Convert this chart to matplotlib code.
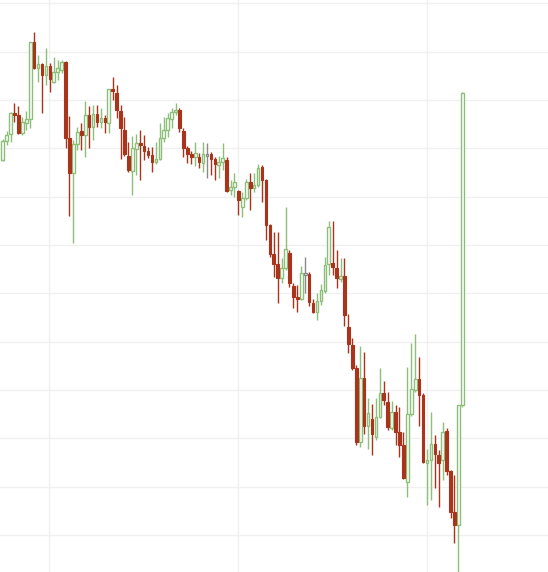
import numpy as np
import matplotlib
matplotlib.use("Agg")
import matplotlib.pyplot as plt

# OHLC series (arbitrary price units)
opens = [440, 459, 466, 487, 485, 467, 477, 481, 558, 532, 536, 525, 534, 518, 528, 530,
         538, 462, 427, 456, 469, 465, 485, 473, 486, 478, 482, 477, 511, 507, 489, 470,
         444, 429, 451, 457, 454, 449, 445, 438, 441, 462, 470, 481, 488, 490, 469, 452,
         446, 443, 443, 437, 445, 446, 441, 435, 438, 440, 410, 413, 409, 393, 402, 418,
         412, 415, 433, 420, 375, 346, 336, 322, 332, 347, 314, 303, 301, 326, 326, 297,
         288, 299, 309, 336, 337, 332, 321, 324, 273, 255, 232, 158, 222, 174, 181, 163,
         183, 207, 198, 172, 188, 168, 155, 118, 186, 210, 221, 205, 137, 140, 156, 145,
         140, 169, 129, 88, 75, 195]
highs = [461, 469, 488, 497, 494, 483, 489, 558, 568, 545, 537, 552, 537, 543, 540, 540,
         539, 484, 460, 473, 477, 499, 494, 495, 495, 492, 485, 511, 523, 515, 495, 483,
         458, 464, 466, 470, 465, 453, 453, 458, 477, 483, 487, 492, 497, 492, 472, 454,
         449, 458, 447, 458, 457, 448, 443, 444, 457, 443, 420, 427, 410, 408, 421, 427,
         427, 436, 435, 421, 376, 368, 368, 342, 393, 350, 317, 315, 334, 343, 328, 301,
         307, 316, 343, 379, 379, 350, 342, 342, 286, 262, 235, 254, 248, 202, 196, 202,
         232, 219, 208, 199, 195, 193, 168, 233, 257, 266, 243, 207, 151, 188, 165, 150,
         178, 172, 130, 125, 195, 508]
lows = [439, 455, 458, 478, 466, 465, 470, 472, 531, 518, 487, 515, 508, 517, 520, 527,
        452, 384, 357, 450, 450, 443, 452, 460, 473, 472, 467, 467, 500, 482, 441, 444,
        428, 405, 425, 420, 440, 442, 428, 436, 440, 458, 463, 472, 485, 468, 443, 437,
        436, 434, 432, 428, 422, 425, 420, 422, 430, 408, 405, 403, 385, 383, 400, 390,
        408, 413, 398, 360, 343, 323, 297, 317, 330, 313, 292, 288, 300, 307, 294, 287,
        280, 295, 307, 325, 325, 312, 318, 274, 247, 230, 155, 153, 166, 151, 145, 160,
        182, 195, 170, 170, 155, 143, 121, 103, 184, 208, 174, 137, 95, 100, 112, 93,
        120, 125, 82, 57, 25, 193]
closes = [459, 465, 487, 485, 467, 478, 481, 558, 532, 536, 525, 534, 521, 528, 532, 538,
          462, 427, 456, 468, 465, 485, 473, 486, 478, 482, 478, 511, 509, 490, 472, 446,
          430, 452, 457, 455, 449, 445, 438, 441, 462, 470, 482, 488, 490, 472, 452, 446,
          443, 447, 438, 446, 445, 441, 436, 438, 442, 409, 413, 418, 400, 402, 418, 412,
          415, 432, 420, 375, 346, 336, 322, 332, 351, 317, 303, 301, 327, 326, 298, 288,
          299, 310, 335, 373, 333, 322, 324, 285, 256, 232, 158, 222, 174, 187, 166, 183,
          207, 200, 173, 188, 168, 155, 122, 186, 211, 221, 205, 138, 140, 156, 146, 137,
          168, 129, 88, 75, 195, 507]

# date gridline positions (in candle index units)
date_grid = [11.9, 59.9, 107.9]

green = "#8dbf7a"
red = "#a9341b"
grey = "#8a8a8a"

o = np.array(opens, dtype=float)
h = np.array(highs, dtype=float)
l = np.array(lows, dtype=float)
c = np.array(closes, dtype=float)
x = np.arange(len(o))

up = c > o
down = c < o
flat = c == o
cols = np.where(up, green, np.where(down, red, grey))

fig = plt.figure(figsize=(5.48, 5.72), dpi=100)
ax = fig.add_axes([0, 0, 1, 1])

ax.vlines(x, l, h, colors=cols, linewidth=1, zorder=2)
w = 0.66
ax.bar(x[up], (c - o)[up], bottom=o[up], width=w, facecolor="white",
       edgecolor=green, linewidth=1, zorder=3)
ax.bar(x[down], (c - o)[down], bottom=o[down], width=w, facecolor=red,
       edgecolor=red, linewidth=0.8, zorder=3)
ax.bar(x[flat], 1.5, bottom=o[flat] - 0.75, width=w, facecolor="white",
       edgecolor=grey, linewidth=1, zorder=3)

ax.set_xlim(-0.69, 138.8)
ax.set_ylim(28, 600)
ax.set_xticks(date_grid)
ax.set_yticks(np.arange(65, 600, 48.33))
ax.grid(True, color="#f0f0f0", linewidth=1)
ax.set_axisbelow(True)
ax.tick_params(length=0, labelbottom=False, labelleft=False)
for s in ax.spines.values():
    s.set_visible(False)

fig.savefig("out.png", dpi=100)
